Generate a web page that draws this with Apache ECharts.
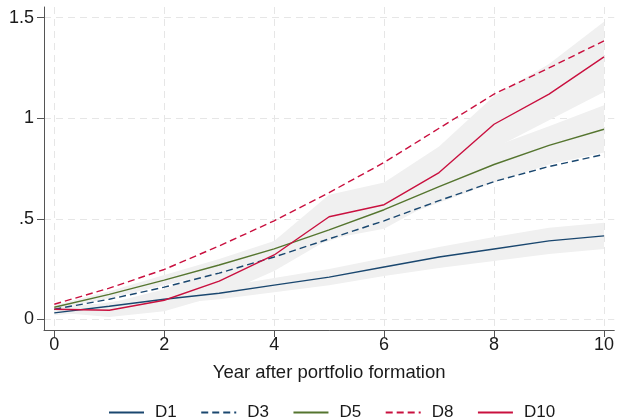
<!DOCTYPE html>
<html>
<head>
<meta charset="utf-8">
<script src="https://cdn.jsdelivr.net/npm/echarts@6/dist/echarts.min.js"></script>
<style>
html,body{margin:0;padding:0;background:#fff;}
#chart{width:617px;height:419px;}
</style>
</head>
<body>
<div id="chart"></div>
<script>
// ---- data ----
var years = [0, 1, 2, 3, 4, 5, 6, 7, 8, 9, 10];
var D1  = [0.032, 0.065, 0.100, 0.130, 0.170, 0.210, 0.260, 0.310, 0.350, 0.390, 0.415];
var D3  = [0.050, 0.100, 0.160, 0.230, 0.310, 0.400, 0.490, 0.590, 0.685, 0.760, 0.820];
var D5  = [0.060, 0.124, 0.195, 0.270, 0.350, 0.445, 0.545, 0.660, 0.770, 0.865, 0.945];
var D8  = [0.075, 0.155, 0.248, 0.365, 0.490, 0.630, 0.780, 0.950, 1.120, 1.250, 1.385];
var D10 = [0.050, 0.045, 0.095, 0.190, 0.320, 0.510, 0.570, 0.730, 0.970, 1.120, 1.305];

// confidence bands
var D1lo  = [0.020, 0.045, 0.075, 0.100, 0.135, 0.170, 0.215, 0.255, 0.290, 0.325, 0.350];
var D1hi  = [0.045, 0.085, 0.125, 0.160, 0.205, 0.250, 0.305, 0.360, 0.410, 0.455, 0.480];
var D5lo  = [0.050, 0.105, 0.170, 0.235, 0.310, 0.390, 0.480, 0.580, 0.680, 0.770, 0.830];
var D5hi  = [0.070, 0.140, 0.220, 0.300, 0.390, 0.500, 0.610, 0.740, 0.860, 0.960, 1.065];
var D10lo = [0.035, 0.012, 0.040, 0.120, 0.240, 0.400, 0.450, 0.600, 0.850, 0.990, 1.130];
var D10hi = [0.065, 0.080, 0.150, 0.260, 0.390, 0.620, 0.680, 0.860, 1.110, 1.270, 1.480];

var xTicks = [0, 2, 4, 6, 8, 10];
var xTickLabels = ['0', '2', '4', '6', '8', '10'];
var yTicks = [0, 0.5, 1, 1.5];
var yTickLabels = ['0', '.5', '1', '1.5'];
var seriesNames = ['D1', 'D3', 'D5', 'D8', 'D10'];

// ---- styling ----
var FONT = 'Liberation Sans, Arial, Helvetica, sans-serif';
var NAVY = '#1a476f', GREEN = '#55752f', RED = '#c9103f';
var BAND = '#f0f0f0';
var DASH = [7, 4];

var bands = [
  { lo: D10lo, hi: D10hi },
  { lo: D5lo, hi: D5hi },
  { lo: D1lo, hi: D1hi }
];

function pairs(ys) { return years.map(function (x, i) { return [x, ys[i]]; }); }

var bandSeries = {
  name: 'bands', type: 'custom', silent: true, z: 1, clip: true,
  data: bands.map(function () { return [5, 0.5]; }),
  renderItem: function (params, api) {
    var b = bands[params.dataIndex];
    var pts = [];
    for (var i = 0; i < years.length; i++) pts.push(api.coord([years[i], b.hi[i]]));
    for (var j = years.length - 1; j >= 0; j--) pts.push(api.coord([years[j], b.lo[j]]));
    return { type: 'polygon', shape: { points: pts }, style: { fill: BAND, stroke: null } };
  }
};

function lineSeries(name, ys, color, dashed) {
  return { name: name, type: 'line', data: pairs(ys), symbol: 'none', z: 3,
    color: color,
    lineStyle: { color: color, width: 1.4, type: dashed ? DASH : 'solid' } };
}

var series = [bandSeries].concat([
  lineSeries('D1', D1, NAVY, false),
  lineSeries('D3', D3, NAVY, true),
  lineSeries('D5', D5, GREEN, false),
  lineSeries('D8', D8, RED, true),
  lineSeries('D10', D10, RED, false)
]);

var gridLine = { show: true, lineStyle: { color: '#e6e6e6', width: 1, type: [7, 5] } };
var axisLineStyle = { show: true, onZero: false, lineStyle: { color: '#555', width: 1 } };

var chart = echarts.init(document.getElementById('chart'), null, { renderer: 'canvas' });
chart.setOption({
  animation: false,
  backgroundColor: '#fff',
  textStyle: { fontFamily: FONT },
  grid: { left: 44, right: 1.5, top: 7, bottom: 89, containLabel: false },
  xAxis: {
    type: 'value', min: -0.187, max: 10.187,
    name: 'Year after portfolio formation', nameLocation: 'middle', nameGap: 33,
    nameTextStyle: { fontFamily: FONT, fontSize: 18.5, color: '#1a1a1a' },
    axisLine: axisLineStyle,
    axisTick: { show: true, length: 7, inside: false, customValues: xTicks, lineStyle: { color: '#555' } },
    axisLabel: { customValues: xTicks, margin: 6, fontFamily: FONT, fontSize: 18, color: '#1a1a1a',
      formatter: function (v) { var i = xTicks.indexOf(v); return i >= 0 ? xTickLabels[i] : ''; } },
    splitLine: gridLine
  },
  yAxis: {
    type: 'value', min: -0.053, max: 1.553,
    axisLine: axisLineStyle,
    axisTick: { show: true, length: 7, inside: false, customValues: yTicks, lineStyle: { color: '#555' } },
    axisLabel: { customValues: yTicks, margin: 10, fontFamily: FONT, fontSize: 18, color: '#1a1a1a',
      formatter: function (v) { var i = yTicks.indexOf(v); return i >= 0 ? yTickLabels[i] : ''; } },
    splitLine: gridLine
  },
  legend: {
    data: seriesNames,
    left: 103, top: 399,
    itemWidth: 35, itemHeight: 14, itemGap: 23.5,
    itemStyle: { opacity: 0 },
    textStyle: { fontFamily: FONT, fontSize: 17, color: '#1a1a1a', padding: [0, 0, 0, 6] }
  },
  series: series
});
</script>
</body>
</html>
